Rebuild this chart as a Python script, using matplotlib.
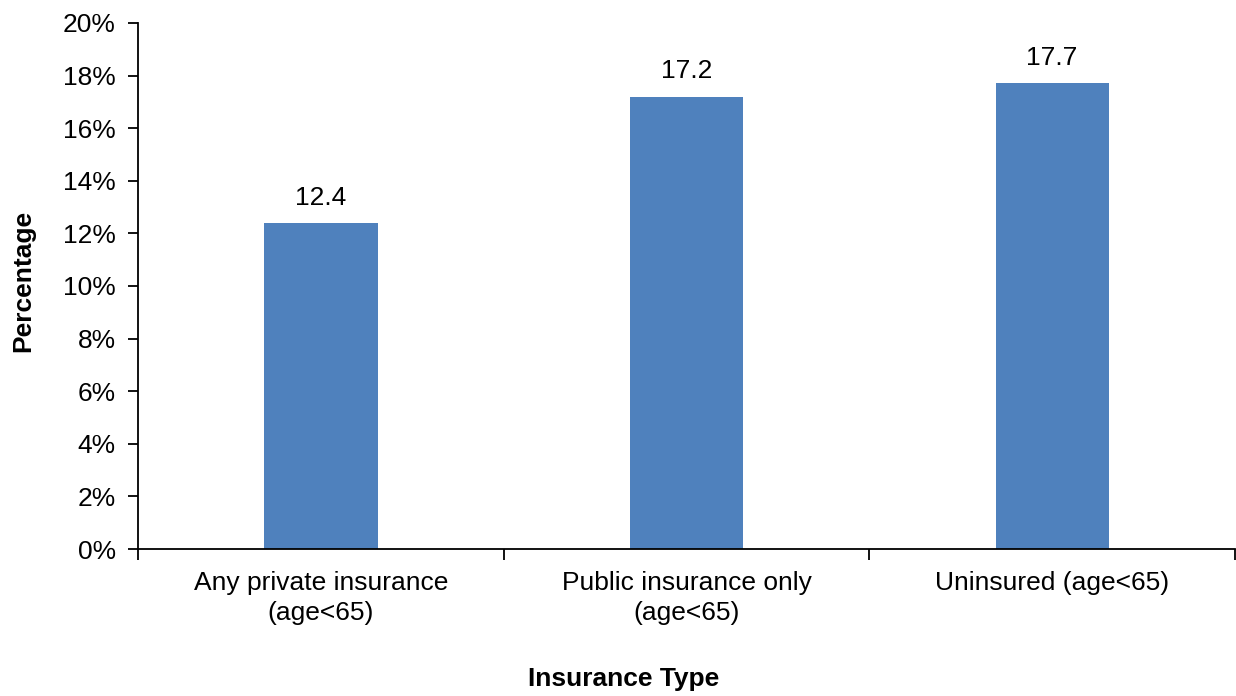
import matplotlib
matplotlib.use("Agg")
import matplotlib.pyplot as plt
import numpy as np
from matplotlib.ticker import FuncFormatter, FixedLocator

categories = ["Any private insurance\n(age<65)", "Public insurance only\n(age<65)", "Uninsured (age<65)"]
values = [12.4, 17.2, 17.7]
yticks = [0, 2, 4, 6, 8, 10, 12, 14, 16, 18, 20]

plt.rcParams["font.family"] = ["Liberation Sans", "DejaVu Sans"]
FS = 19

fig = plt.figure(figsize=(12.36, 6.96), dpi=100)
ax = fig.add_axes([0.1117, 0.2112, 0.8875, 0.7558])

x = np.arange(len(categories))
ax.bar(x, values, width=0.31, color="#4F81BD", zorder=2)
for xi, v in zip(x, values):
    ax.text(xi, v + 0.5, f"{v:.1f}", ha="center", va="bottom", fontsize=FS)

ax.set_xlim(-0.5, len(categories) - 0.5)
ax.set_ylim(0, 20)
ax.set_yticks(yticks)
ax.yaxis.set_major_formatter(FuncFormatter(lambda v, p: f"{v:.0f}%"))
ax.tick_params(axis="y", direction="out", length=7, width=1.3, labelsize=FS, pad=9)

# category labels without marks; marks sit on the boundaries
ax.set_xticks(x)
ax.set_xticklabels(categories, fontsize=FS, linespacing=1.3)
ax.tick_params(axis="x", which="major", length=0, pad=16)
ax.xaxis.set_minor_locator(FixedLocator(np.arange(-0.5, len(categories), 1.0)))
ax.tick_params(axis="x", which="minor", direction="out", length=8, width=1.3)

for s in ["top", "right"]:
    ax.spines[s].set_visible(False)
for s in ["left", "bottom"]:
    ax.spines[s].set_linewidth(1.3)

ax.set_ylabel("Percentage", fontsize=FS, fontweight="bold")
ax.yaxis.set_label_coords(-0.094, 0.51)
ax.set_xlabel("Insurance Type", fontsize=FS, fontweight="bold")
ax.xaxis.set_label_coords(0.443, -0.225)

fig.savefig("out.png", dpi=100)
